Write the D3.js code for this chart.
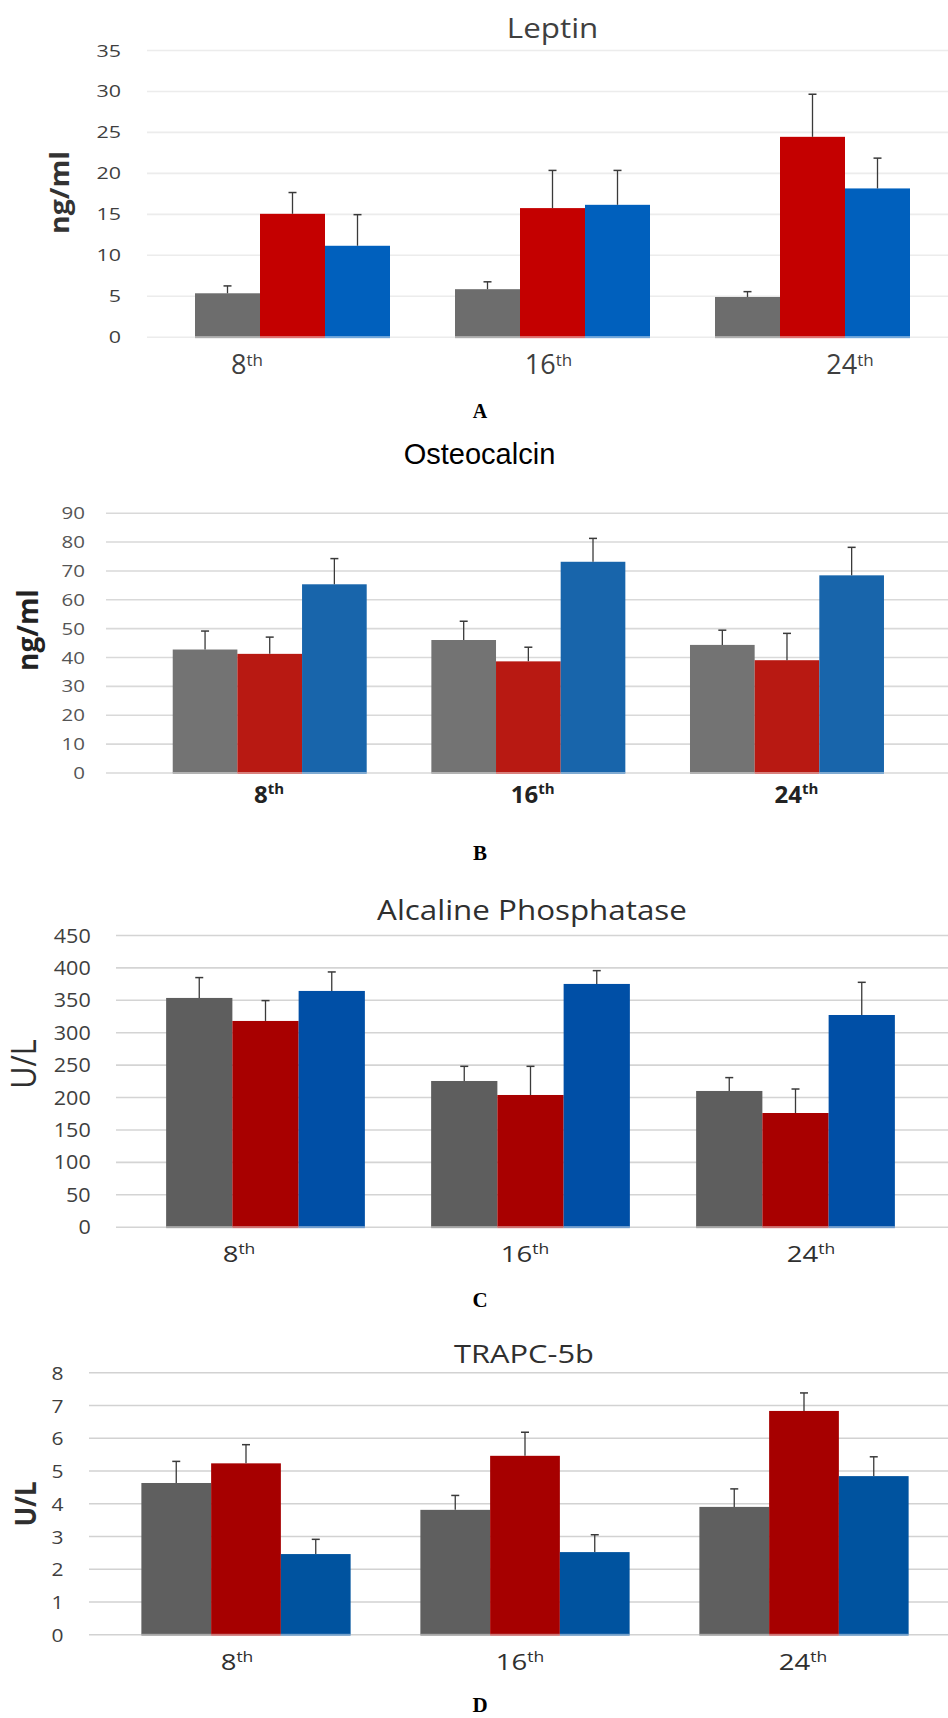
<!DOCTYPE html>
<html>
<head>
<meta charset="utf-8">
<script src="https://cdn.jsdelivr.net/npm/d3@7"></script>
<style>
  html, body { margin: 0; padding: 0; background: #fff; }
  svg { display: block; }
</style>
</head>
<body>
<div id="chart"></div>
<script>
// ---------------- DATA ----------------
const categories = ["8", "16", "24"];          // week (shown as 8th, 16th, 24th)
const ordinalSuffix = "th";
const seriesNames = ["Group 1", "Group 2", "Group 3"];

// Leptin (ng/ml): mean and SD per week, per group
const leptinMeans = [[5.3, 15.0, 11.1], [5.8, 15.7, 16.1], [4.85, 24.4, 18.1]];
const leptinSD    = [[0.9, 2.6, 3.8],  [0.9, 4.6, 4.2],  [0.65, 5.2, 3.7]];
const leptinTicks = [0, 5, 10, 15, 20, 25, 30, 35];

// Osteocalcin (ng/ml)
const osteoMeans = [[42.6, 41.1, 65.2], [45.9, 38.5, 73.0], [44.2, 38.9, 68.3]];
const osteoSD    = [[6.4, 5.8, 8.9],   [6.5, 4.9, 8.1],   [5.1, 9.3, 9.7]];
const osteoTicks = [0, 10, 20, 30, 40, 50, 60, 70, 80, 90];

// Alcaline Phosphatase (U/L)
const alpMeans = [[352.9, 317.4, 363.7], [224.8, 203.2, 374.5], [209.4, 175.4, 326.6]];
const alpSD    = [[31.4, 31.4, 29.3],   [22.6, 44.2, 20.5],   [20.6, 37.0, 50.4]];
const alpTicks = [0, 50, 100, 150, 200, 250, 300, 350, 400, 450];

// TRAPC-5b (U/L)
const trapMeans = [[4.62, 5.22, 2.45], [3.80, 5.45, 2.51], [3.89, 6.82, 4.83]];
const trapSD    = [[0.66, 0.57, 0.45], [0.44, 0.72, 0.53], [0.55, 0.55, 0.59]];
const trapTicks = [0, 1, 2, 3, 4, 5, 6, 7, 8];

const panelTitles = ["Leptin", "Osteocalcin", "Alcaline Phosphatase", "TRAPC-5b"];
const yAxisTitles = ["ng/ml", "ng/ml", "U/L", "U/L"];
const panelLetters = ["A", "B", "C", "D"];

// ---------------- LAYOUT / STYLE ----------------
const W = 948, H = 1718;
const SANS = "'Open Sans', 'Noto Sans', sans-serif";

const panels = [
  { means: leptinMeans, sd: leptinSD, ticks: leptinTicks,
    colors: ["#6d6d6d", "#c40000", "#0060bd"],
    yRange: [336.7, 50], xRange: [162.5, 942.5], gridX: [147, 948], gridColor: "#ececec",
    tickRight: 121, tickSize: 16.5, tickSx: 1.3, tickColor: "#3f3f3f", tickDy: 6,
    titleFont: SANS, titleSize: 28, titleSx: 1.12, titleX: 552.6, titleY: 38.3, titleColor: "#3f3f3f", titleWeight: 400,
    labelXs: [247, 550, 850], labelY: 374.3, labelSize: 27, labelSx: 1.0, labelWeight: 400, supSize: 17, supDy: -8, labelColor: "#3f3f3f",
    ylabX: 60, ylabY: 192.5, ylabSize: 27, ylabSx: 1.05, ylabWeight: 700, ylabColor: "#333",
    letterY: 418.3, letterSize: 20 },
  { means: osteoMeans, sd: osteoSD, ticks: osteoTicks,
    colors: ["#737373", "#b81912", "#1865ab"],
    yRange: [772.5, 512.7], xRange: [140.4, 916.3], gridX: [106, 948], gridColor: "#d9d9d9",
    tickRight: 85, tickSize: 16.4, tickSx: 1.25, tickColor: "#555", tickDy: 6,
    titleFont: "'Liberation Sans', Arial, sans-serif", titleSize: 29, titleSx: 1.0, titleX: 479.5, titleY: 464, titleColor: "#000", titleWeight: 400,
    labelXs: [269, 533, 796.5], labelY: 803, labelSize: 24, labelSx: 1.0, labelWeight: 700, supSize: 15, supDy: -9, labelColor: "#222",
    ylabX: 28, ylabY: 630, ylabSize: 28, ylabSx: 1.0, ylabWeight: 700, ylabColor: "#222",
    letterY: 860, letterSize: 21 },
  { means: alpMeans, sd: alpSD, ticks: alpTicks,
    colors: ["#5e5e5e", "#a80000", "#004fa6"],
    yRange: [1226.7, 935], xRange: [133, 928], gridX: [116, 948], gridColor: "#d4d4d4",
    tickRight: 90.7, tickSize: 19.6, tickSx: 1.1, tickColor: "#3f3f3f", tickDy: 7,
    titleFont: SANS, titleSize: 28, titleSx: 1.12, titleX: 532, titleY: 920, titleColor: "#2f2f2f", titleWeight: 400,
    labelXs: [239, 530, 811], labelY: 1261.7, labelSize: 22, labelSx: 1.25, labelWeight: 400, supSize: 14, supDy: -8, labelColor: "#2f2f2f",
    ylabX: 23.7, ylabY: 1064, ylabSize: 34, ylabSx: 0.9, ylabWeight: 400, ylabColor: "#2f2f2f",
    letterY: 1306.5, letterSize: 21 },
  { means: trapMeans, sd: trapSD, ticks: trapTicks,
    colors: ["#5f5f5f", "#a60000", "#00539f"],
    yRange: [1634.3, 1372.3], xRange: [106.5, 943.5], gridX: [89, 948], gridColor: "#d2d2d2",
    tickRight: 63.5, tickSize: 18.6, tickSx: 1.13, tickColor: "#3f3f3f", tickDy: 7,
    titleFont: SANS, titleSize: 25.7, titleSx: 1.2, titleX: 524, titleY: 1363.3, titleColor: "#2f2f2f", titleWeight: 400,
    labelXs: [237, 524, 803], labelY: 1670, labelSize: 22, labelSx: 1.25, labelWeight: 400, supSize: 14, supDy: -8, labelColor: "#2f2f2f",
    ylabX: 25.5, ylabY: 1504, ylabSize: 29, ylabSx: 0.9, ylabWeight: 700, ylabColor: "#2f2f2f",
    letterY: 1712, letterSize: 21 }
];

// ---------------- DRAW ----------------
const svg = d3.select("#chart").append("svg")
  .attr("width", W).attr("height", H)
  .attr("viewBox", `0 0 ${W} ${H}`);
svg.append("rect").attr("width", W).attr("height", H).attr("fill", "#fff");

panels.forEach((p, pi) => {
  const g = svg.append("g").attr("class", "panel panel-" + panelLetters[pi]);

  const y = d3.scaleLinear().domain([0, d3.max(p.ticks)]).range(p.yRange);
  const x0 = d3.scaleBand().domain(categories).range(p.xRange).paddingInner(0.25).paddingOuter(0.125);
  const x1 = d3.scaleBand().domain(seriesNames).range([0, x0.bandwidth()]);
  const color = d3.scaleOrdinal().domain(seriesNames).range(p.colors);
  const labelX = d3.scalePoint().domain(categories).range([p.labelXs[0], p.labelXs[2]]);

  // gridlines + tick labels via axis
  const gridW = p.gridX[1] - p.gridX[0];
  const pad = p.gridX[0] - p.tickRight;
  const ax = g.append("g")
    .attr("transform", `translate(${p.gridX[0]},0)`)
    .call(d3.axisLeft(y).tickValues(p.ticks).tickSize(-gridW).tickPadding(pad).tickFormat(d3.format("d")));
  ax.select(".domain").remove();
  ax.selectAll(".tick line").attr("stroke", p.gridColor).attr("stroke-width", 1.6);
  ax.selectAll(".tick text")
    .attr("fill", p.tickColor)
    .attr("font-family", SANS)
    .attr("font-size", p.tickSize)
    .attr("x", -pad / p.tickSx)
    .attr("dy", null)
    .attr("y", p.tickDy)
    .attr("transform", `scale(${p.tickSx},1)`);

  // bars
  const groups = g.selectAll("g.cat").data(categories).join("g")
    .attr("class", "cat")
    .attr("transform", d => `translate(${x0(d)},0)`);

  const barData = (ci) => seriesNames.map((s, si) => ({ s, v: p.means[ci][si], e: p.sd[ci][si] }));

  groups.each(function (cat, ci) {
    const gg = d3.select(this);
    const data = barData(ci);
    gg.selectAll("rect.bar").data(data).join("rect")
      .attr("class", "bar")
      .attr("x", d => x1(d.s))
      .attr("y", d => y(d.v))
      .attr("width", x1.bandwidth())
      .attr("height", d => y(0) - y(d.v))
      .attr("fill", d => color(d.s));
    // lighter strip at the base of each bar
    gg.selectAll("rect.base").data(data).join("rect")
      .attr("class", "base")
      .attr("x", d => x1(d.s))
      .attr("y", y(0) - 0.5)
      .attr("width", x1.bandwidth())
      .attr("height", 2)
      .attr("fill", d => d3.interpolateRgb(color(d.s), "#ffffff")(0.45));
    // error bars
    const eb = gg.selectAll("g.err").data(data).join("g").attr("class", "err");
    eb.append("line")
      .attr("x1", d => x1(d.s) + x1.bandwidth() / 2)
      .attr("x2", d => x1(d.s) + x1.bandwidth() / 2)
      .attr("y1", d => y(d.v))
      .attr("y2", d => y(d.v + d.e))
      .attr("stroke", "#3a3a3a").attr("stroke-width", 1.3);
    eb.append("line")
      .attr("x1", d => x1(d.s) + x1.bandwidth() / 2 - 4)
      .attr("x2", d => x1(d.s) + x1.bandwidth() / 2 + 4)
      .attr("y1", d => y(d.v + d.e))
      .attr("y2", d => y(d.v + d.e))
      .attr("stroke", "#3a3a3a").attr("stroke-width", 1.5);
  });

  // category labels (8th, 16th, 24th)
  categories.forEach(c => {
    const t = g.append("text")
      .attr("transform", `translate(${labelX(c)},${p.labelY}) scale(${p.labelSx},1)`)
      .attr("text-anchor", "middle")
      .attr("font-family", SANS)
      .attr("font-weight", p.labelWeight)
      .attr("fill", p.labelColor)
      .attr("font-size", p.labelSize);
    t.append("tspan").text(c);
    t.append("tspan").attr("font-size", p.supSize).attr("dy", p.supDy).text(ordinalSuffix);
  });

  // title
  g.append("text")
    .attr("transform", `translate(${p.titleX},${p.titleY}) scale(${p.titleSx},1)`)
    .attr("text-anchor", "middle")
    .attr("font-family", p.titleFont)
    .attr("font-size", p.titleSize)
    .attr("font-weight", p.titleWeight)
    .attr("fill", p.titleColor)
    .text(panelTitles[pi]);

  // y-axis title
  g.append("text")
    .attr("transform", `translate(${p.ylabX},${p.ylabY}) rotate(-90) scale(${p.ylabSx},1)`)
    .attr("text-anchor", "middle")
    .attr("dy", "0.35em")
    .attr("font-family", SANS)
    .attr("font-size", p.ylabSize)
    .attr("font-weight", p.ylabWeight)
    .attr("fill", p.ylabColor)
    .text(yAxisTitles[pi]);

  // panel letter
  g.append("text")
    .attr("x", 480).attr("y", p.letterY)
    .attr("text-anchor", "middle")
    .attr("font-family", "'Liberation Serif', 'Times New Roman', serif")
    .attr("font-weight", 700)
    .attr("font-size", p.letterSize)
    .attr("fill", "#000")
    .text(panelLetters[pi]);
});
</script>
</body>
</html>
